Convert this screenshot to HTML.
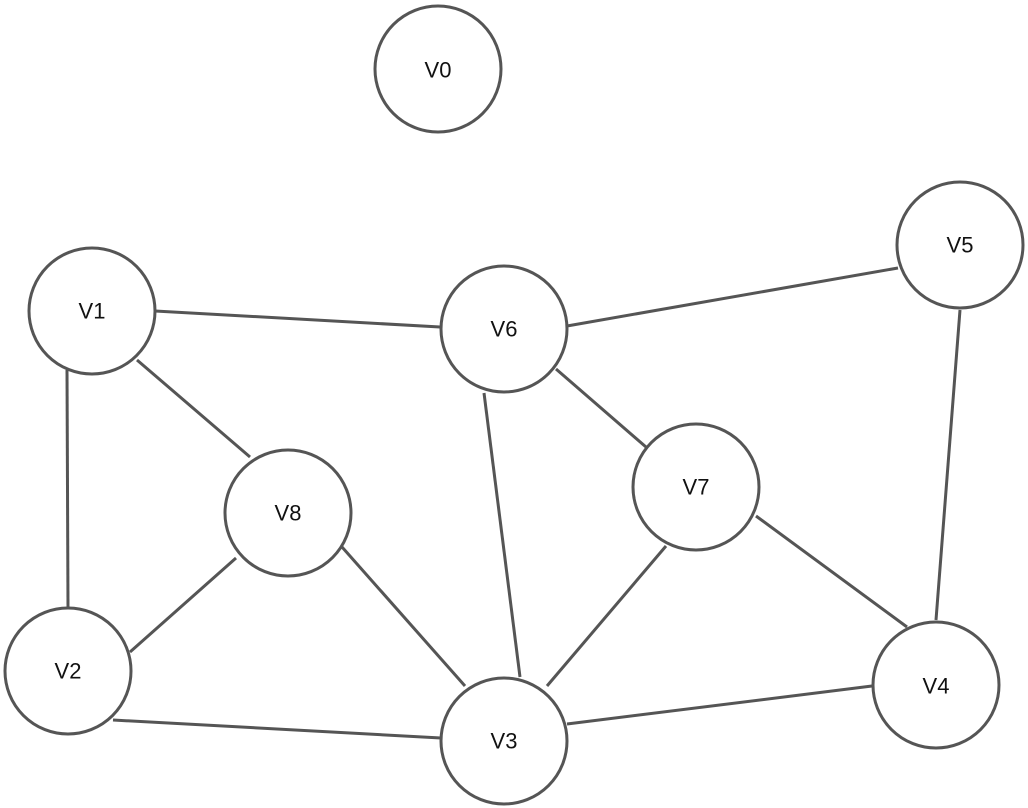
<!DOCTYPE html>
<html><head><meta charset="utf-8"><style>html,body{margin:0;padding:0;background:#fff}svg{display:block}</style></head>
<body>
<svg width="1028" height="808" viewBox="0 0 1028 808" xmlns="http://www.w3.org/2000/svg">
<g stroke="#555" stroke-width="3" fill="none">
<line x1="155" y1="311" x2="440" y2="327"/>
<line x1="567" y1="326" x2="898" y2="268"/>
<line x1="137" y1="360" x2="250" y2="457"/>
<line x1="67" y1="370" x2="68" y2="608"/>
<line x1="236" y1="558" x2="130" y2="652"/>
<line x1="342" y1="547" x2="465" y2="686"/>
<line x1="113" y1="720" x2="441" y2="738"/>
<line x1="484" y1="393" x2="520" y2="677"/>
<line x1="556" y1="369" x2="646" y2="447"/>
<line x1="666" y1="546" x2="547" y2="686"/>
<line x1="756" y1="516" x2="907" y2="627"/>
<line x1="960" y1="310" x2="936" y2="620"/>
<line x1="567" y1="724" x2="872" y2="686"/>
</g>
<g stroke="#555" stroke-width="3" fill="#fff">
<circle cx="438" cy="69" r="63"/>
<circle cx="92" cy="311" r="63"/>
<circle cx="504" cy="329" r="63"/>
<circle cx="960" cy="245" r="63"/>
<circle cx="696" cy="487" r="63"/>
<circle cx="288" cy="513" r="63"/>
<circle cx="68" cy="671" r="63"/>
<circle cx="504" cy="741" r="63"/>
<circle cx="936" cy="685" r="63"/>
</g>
<g font-family="Liberation Sans, sans-serif" font-size="22" fill="#111" text-anchor="middle" dominant-baseline="central">
<text x="438" y="70">V0</text>
<text x="92" y="311">V1</text>
<text x="504" y="329">V6</text>
<text x="960" y="245">V5</text>
<text x="696" y="487">V7</text>
<text x="288" y="513">V8</text>
<text x="68" y="671">V2</text>
<text x="504" y="741">V3</text>
<text x="936" y="686">V4</text>
</g>
</svg>
</body></html>
